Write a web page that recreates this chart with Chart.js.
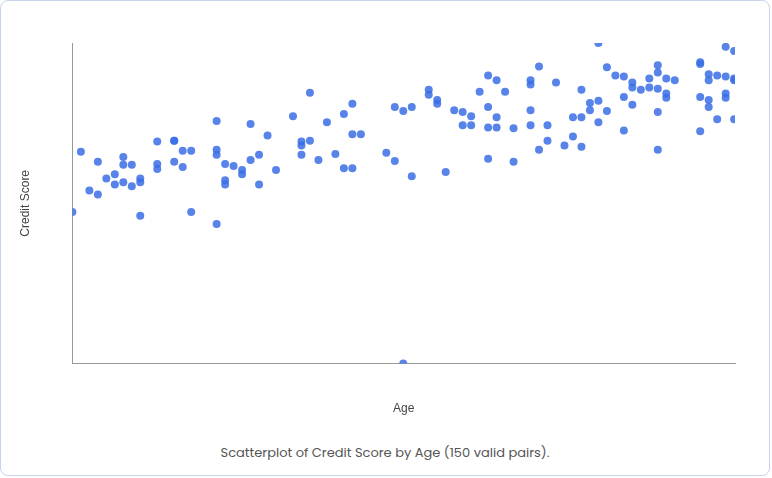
<!DOCTYPE html>
<html><head><meta charset="utf-8">
<script src="https://cdn.jsdelivr.net/npm/chart.js@4"></script>
<style>
html,body{margin:0;padding:0;background:#fff;font-family:Poppins,"Open Sans",sans-serif;}
#card{position:absolute;left:0;top:0;width:770px;height:476px;border:1px solid #c9d3ec;border-radius:8px;box-sizing:border-box;}
#wrap{position:absolute;left:0;top:0;width:770px;height:430px;}
#cap{position:absolute;left:0;width:770px;top:443px;text-align:center;font-size:13px;color:#555;}
</style></head><body>
<div id="card"></div>
<div id="wrap"><canvas id="c"></canvas></div>
<div id="cap">Scatterplot of Credit Score by Age (150 valid pairs).</div>
<script>
const ages=[18,19,20,21,21,22,23,23,24,24,24,25,25,26,26,26,28,28,28,30,30,30,31,31,32,32,35,35,35,35,36,36,36,37,38,38,39,39,40,40,41,42,44,45,45,45,46,46,47,48,49,50,50,51,51,51,52,55,56,56,57,57,58,58,60,60,61,61,62,63,64,64,65,65,66,67,67,67,67,68,68,68,69,70,70,72,72,72,72,73,73,74,74,75,76,77,77,78,78,78,79,79,80,80,80,81,81,82,83,83,83,84,84,84,85,86,86,87,87,87,87,87,88,88,88,89,92,92,92,92,93,93,93,93,94,94,95,95,95,95,96,96,96,96];
const scores=[402,562,459,535,448,491,502,475,548,527,481,527,470,491,481,392,589,529,516,591,591,535,564,521,564,402,643,567,554,370,529,486,475,524,513,502,635,540,554,475,605,513,656,589,578,554,718,591,540,640,556,662,518,689,608,518,608,559,680,537,670,0,680,497,726,713,699,689,508,672,667,632,656,632,721,764,680,626,543,751,653,626,721,624,535,751,740,672,632,788,567,632,591,745,578,653,602,726,653,575,691,672,850,697,640,786,670,764,761,707,618,745,732,686,726,756,732,791,772,729,667,567,756,716,705,751,799,794,707,616,767,751,699,680,764,648,840,761,716,705,829,756,751,648];
const pts=ages.map((a,i)=>({x:a,y:scores[i]}));
new Chart(document.getElementById('c'),{type:'scatter',
data:{datasets:[{data:pts,backgroundColor:'rgba(59,110,230,0.85)',borderWidth:0,pointRadius:4,pointHoverRadius:4}]},
options:{responsive:true,maintainAspectRatio:false,animation:false,
layout:{padding:{left:14,right:35,top:43,bottom:10}},
plugins:{legend:{display:false},tooltip:{enabled:false}},
scales:{
x:{type:'linear',min:18,max:96.1,ticks:{display:false},grid:{display:false,drawTicks:false},border:{display:true,color:'#999'},
 title:{display:true,text:'Age',color:'#444',font:{size:12},padding:{top:38}}},
y:{min:0,max:850,ticks:{display:false},grid:{display:false,drawTicks:false},border:{display:true,color:'#999'},
 title:{display:true,text:'Credit Score',color:'#444',font:{size:12},padding:{bottom:40}}}
}}});
</script></body></html>
